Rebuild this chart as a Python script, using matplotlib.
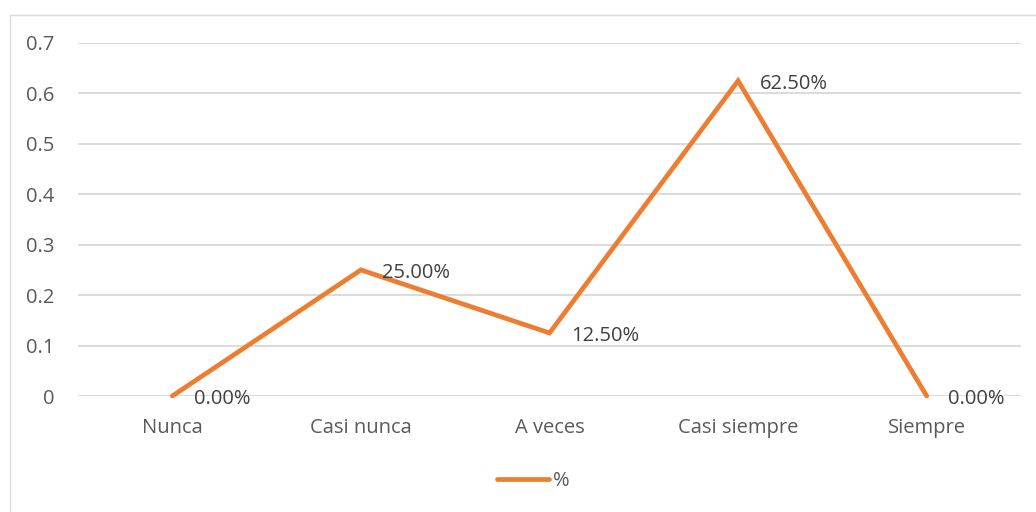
import matplotlib.pyplot as plt
from matplotlib.patches import Rectangle

categorias = ['Nunca', 'Casi nunca', 'A veces', 'Casi siempre', 'Siempre']
porcentajes = [0.0, 0.25, 0.125, 0.625, 0.0]
etiquetas = ['0.00%', '25.00%', '12.50%', '62.50%', '0.00%']
y_ticks = [0, 0.1, 0.2, 0.3, 0.4, 0.5, 0.6, 0.7]
y_tick_labels = ['0', '0.1', '0.2', '0.3', '0.4', '0.5', '0.6', '0.7']

naranja = '#ED7D31'
gris_texto = '#595959'
gris_linea = '#D9D9D9'

plt.rcParams['font.family'] = ['Open Sans', 'DejaVu Sans']
fs = 14.5

fig = plt.figure(figsize=(10.36, 5.12), dpi=100)
ax = fig.add_axes([78 / 1036, (512 - 396) / 512, (1021 - 78) / 1036, (396 - 43) / 512])

# marco del gráfico
fig.patches.append(Rectangle((9.5 / 1036, -0.1), 1.2, (512 - 14.5) / 512 + 0.1,
                             transform=fig.transFigure, fill=False,
                             edgecolor=gris_linea, linewidth=1))

x = list(range(len(categorias)))
ax.plot(x, porcentajes, color=naranja, linewidth=3.4, solid_capstyle='round',
        solid_joinstyle='miter', label='%', zorder=3, clip_on=False)

for xi, yi, txt in zip(x, porcentajes, etiquetas):
    ax.annotate(txt, (xi, yi), xytext=(15.5, -2), textcoords='offset points',
                ha='left', va='center', fontsize=fs, color='#404040', zorder=4)

ax.set_xlim(-0.5, 4.5)
ax.set_ylim(0, 0.7)
ax.set_yticks(y_ticks)
ax.set_yticklabels(y_tick_labels)
ax.set_xticks(x)
ax.set_xticklabels(categorias)
ax.tick_params(axis='both', length=0, labelsize=fs, labelcolor=gris_texto)
ax.tick_params(axis='y', pad=17)
ax.tick_params(axis='x', pad=16)
ax.grid(axis='y', color=gris_linea, linewidth=1.3)
ax.set_axisbelow(True)
for s in ax.spines.values():
    s.set_visible(False)

leg = ax.legend(loc='center', bbox_to_anchor=(0.483, -0.24), frameon=False,
                fontsize=fs, handlelength=2.6, handletextpad=0.2)
for t in leg.get_texts():
    t.set_color(gris_texto)

fig.savefig('out.png', dpi=100)
